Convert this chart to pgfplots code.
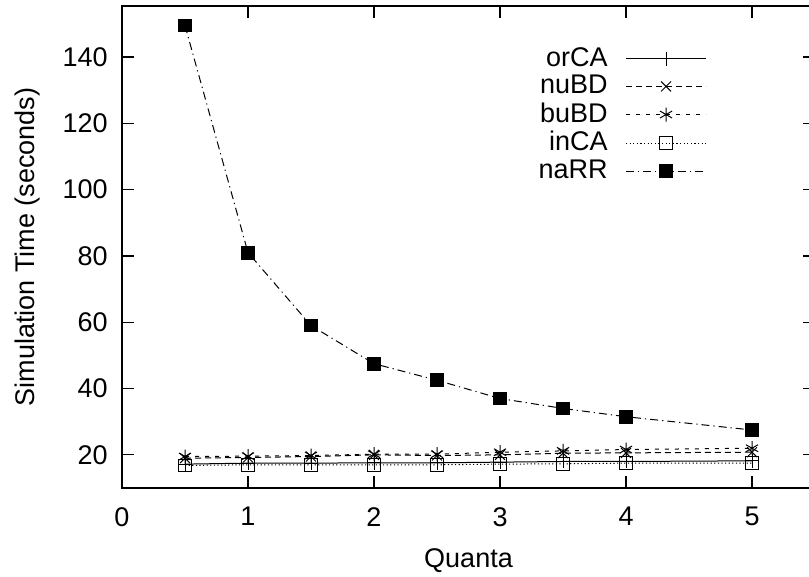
\documentclass[border=0pt]{standalone}
\usepackage{fontspec}
\setmainfont{Liberation Sans}
\usepackage{pgfplots}
\pgfplotsset{compat=1.18}
\usetikzlibrary{calc}
\begin{document}
\fontsize{13.5}{16}\selectfont
\begin{tikzpicture}
\begin{axis}[
  scale only axis,
  width=346.5pt, height=241pt,
  xmin=0, xmax=5.5, ymin=10, ymax=155.4,
  xtick={0,1,2,3,4,5},
  ytick={20,40,60,80,100,120,140},
  tick align=inside,
  major tick length=6pt,
  tick style={black, line width=0.6pt},
  axis line style={line width=0.7pt},
  /pgf/number format/assume math mode=true,
  tick label style={font=\fontsize{13.5}{16}\selectfont},
  yticklabel style={xshift=-2.5pt},
  xticklabel style={yshift=-5pt},
  label style={font=\fontsize{13.5}{16}\selectfont},
  xlabel={Quanta},
  ylabel={Simulation Time (seconds)},
  xlabel style={yshift=-2pt},
  ylabel style={yshift=2pt},
  legend cell align=right,
  legend plot pos=right,
  legend style={draw=none, fill=none, at={(axis cs:4.69,145.5)}, anchor=north east, row sep=-1.5pt, column sep=7pt, font=\fontsize{13.5}{16}\selectfont},
  legend image code/.code={\draw[mark repeat=2,mark phase=2,#1] plot coordinates {(0pt,0pt) (20pt,0pt) (40pt,0pt)};},
  every axis plot/.append style={black, line width=0.5pt},
]
\addplot[mark=+, mark size=3.5pt, mark options={solid}] coordinates {
 (0.5,17.2) (1,17.5) (1.5,17.5) (2,17.6) (2.5,17.6) (3,17.8) (3.5,18) (4,18) (5,18.2)};
\addlegendentry{orCA}
\addplot[mark=x, mark size=3.5pt, dash pattern=on 3pt off 2pt, mark options={solid}] coordinates {
 (0.5,19) (1,19.2) (1.5,19.5) (2,20) (2.5,19.8) (3,20) (3.5,20.5) (4,20.6) (5,20.8)};
\addlegendentry{nuBD}
\addplot[mark=asterisk, mark size=3.5pt, dash pattern=on 2pt off 3pt, mark options={solid}] coordinates {
 (0.5,19.5) (1,19.6) (1.5,19.8) (2,20.2) (2.5,20.2) (3,20.8) (3.5,21.2) (4,21.6) (5,22)};
\addlegendentry{buBD}
\addplot[mark=square, mark size=3.2pt, dash pattern=on 0.6pt off 1.2pt, mark options={solid}] coordinates {
 (0.5,16.8) (1,17) (1.5,17) (2,17) (2.5,17) (3,17.2) (3.5,17.3) (4,17.5) (5,17.5)};
\addlegendentry{inCA}
\addplot[mark=square*, mark size=3.2pt, dash pattern=on 4pt off 2pt on 0.6pt off 2pt, mark options={solid}] coordinates {
 (0.5,149.5) (1,81) (1.5,59) (2,47.5) (2.5,42.5) (3,37) (3.5,34) (4,31.5) (5,27.5)};
\addlegendentry{naRR}
\end{axis}
\pgfresetboundingbox
\path ($(current axis.south west)+(-61pt,-44pt)$) rectangle ($(current axis.north east)+(-3pt,3pt)$);
\end{tikzpicture}
\end{document}
